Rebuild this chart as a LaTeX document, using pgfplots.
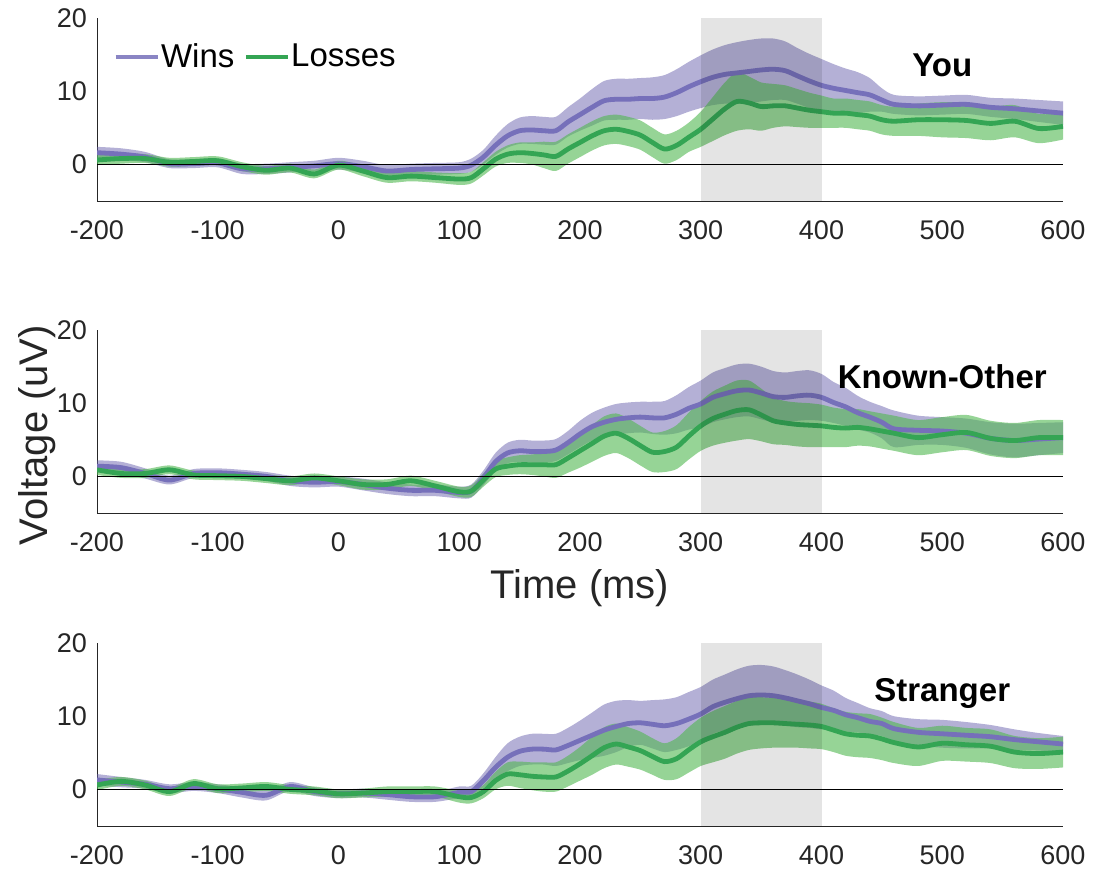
\documentclass[border=0pt]{standalone}
\usepackage{fontspec}
\setmainfont{Liberation Sans}
\usepackage{pgfplots}
\usepackage{pgfplotstable}
\pgfplotsset{compat=1.18}
\usepgfplotslibrary{fillbetween}
\definecolor{winsline}{RGB}{118,112,186}
\definecolor{winsband}{RGB}{105,97,173}
\definecolor{lossline}{RGB}{52,165,84}
\definecolor{lossband}{RGB}{80,183,80}
\definecolor{axgray}{RGB}{38,38,38}

\pgfplotstableread{
t wm we lm le
-200 1.6 0.8 0.6 0.7
-180 1.4 0.8 0.8 0.7
-160 1.0 0.7 0.8 0.6
-140 0.1 0.6 0.3 0.6
-120 0.1 0.6 0.4 0.6
-100 0.2 0.6 0.5 0.6
-80 -0.6 0.7 -0.3 0.6
-60 -0.6 0.7 -0.8 0.6
-40 -0.4 0.7 -0.5 0.6
-20 -0.2 0.7 -1.3 0.6
0 0.1 0.8 -0.1 0.6
20 -0.3 0.8 -0.9 0.7
40 -0.9 0.8 -1.8 0.7
60 -0.7 0.8 -1.6 0.7
80 -0.6 0.8 -1.8 0.7
100 -0.5 0.8 -2.0 0.8
110 -0.1 0.9 -1.8 0.8
120 1.0 1.0 -0.6 0.9
130 2.6 1.3 0.7 1.0
140 3.9 1.6 1.4 1.2
150 4.6 1.8 1.6 1.4
160 4.7 1.9 1.5 1.5
170 4.6 1.9 1.3 1.8
180 4.6 1.9 1.1 2.0
190 5.8 2.0 2.1 2.0
200 6.8 2.2 3.0 2.0
210 7.8 2.5 3.9 2.0
220 8.7 2.7 4.6 2.0
230 8.9 2.8 4.8 2.0
240 8.9 2.8 4.5 2.0
250 9.0 2.8 4.0 2.0
260 9.0 2.9 3.0 2.0
270 9.2 3.0 2.1 2.0
280 9.8 3.2 2.6 2.0
290 10.6 3.4 3.7 2.0
300 11.3 3.6 4.8 2.4
310 11.9 3.8 6.2 3.0
320 12.3 4.0 7.6 3.6
330 12.5 4.2 8.6 4.0
340 12.7 4.3 8.4 3.6
350 12.9 4.3 7.9 3.3
360 13.0 4.2 8.0 3.0
370 12.8 4.0 8.0 2.8
380 12.1 3.8 7.7 2.6
390 11.4 3.7 7.4 2.4
400 10.8 3.6 7.2 2.2
410 10.4 3.3 7.0 2.0
420 10.1 3.0 7.0 2.0
430 9.8 2.8 6.8 2.0
440 9.5 2.3 6.6 2.0
450 8.8 1.6 6.1 2.0
460 8.2 1.3 5.9 2.0
480 8.0 1.3 6.1 2.2
500 8.1 1.3 6.1 2.4
520 8.2 1.3 6.0 2.4
540 7.8 1.3 5.6 2.3
560 7.6 1.4 5.9 2.2
580 7.3 1.5 4.9 2.0
600 7.0 1.6 5.2 1.8
}\youdata

\pgfplotstableread{
t wm we lm le
-200 1.4 0.8 0.9 0.7
-180 1.2 0.8 0.4 0.6
-160 0.4 0.7 0.4 0.6
-140 -0.5 0.6 0.9 0.6
-120 0.4 0.6 0.2 0.6
-100 0.5 0.6 0.1 0.6
-80 0.3 0.6 0.0 0.6
-60 0.0 0.6 -0.3 0.6
-40 -0.6 0.7 -0.6 0.6
-20 -0.8 0.7 -0.2 0.6
0 -0.7 0.7 -0.6 0.6
20 -1.1 0.8 -1.1 0.7
40 -1.6 0.8 -1.1 0.7
60 -1.9 0.8 -0.6 0.7
80 -1.9 0.8 -1.3 0.7
100 -2.2 0.8 -2.1 0.7
110 -2.0 0.9 -2.0 0.8
120 -0.2 1.0 -0.5 0.9
130 2.0 1.2 1.0 1.1
140 3.2 1.4 1.4 1.2
150 3.5 1.5 1.6 1.3
160 3.4 1.5 1.6 1.4
170 3.4 1.5 1.6 1.6
180 3.6 1.5 1.6 1.8
190 4.6 1.6 2.5 2.0
200 5.8 1.8 3.5 2.3
210 6.8 1.9 4.5 2.5
220 7.4 2.0 5.5 2.7
230 7.8 2.1 5.9 2.7
240 8.0 2.1 5.2 2.7
250 8.1 2.1 4.2 2.7
260 8.0 2.2 3.3 2.7
270 8.0 2.3 3.4 2.8
280 8.5 2.6 4.0 3.0
290 9.3 2.9 5.5 3.2
300 9.9 3.2 6.9 3.4
310 10.8 3.4 7.9 3.7
320 11.3 3.5 8.5 3.9
330 11.7 3.6 9.0 4.1
340 11.8 3.6 9.1 4.0
350 11.4 3.6 8.4 3.6
360 10.9 3.5 7.6 3.2
370 10.8 3.4 7.3 3.0
380 11.0 3.4 7.1 3.0
390 11.1 3.4 7.0 3.0
400 10.8 3.2 6.9 2.9
410 10.1 2.8 6.7 2.7
420 9.5 2.6 6.6 2.6
430 8.7 2.3 6.7 2.5
440 8.1 2.1 6.5 2.4
450 7.4 2.2 6.2 2.4
460 6.5 2.5 5.9 2.4
480 6.3 2.0 5.3 2.4
500 6.2 1.9 5.7 2.4
520 5.9 2.0 6.0 2.4
540 5.2 2.2 5.2 2.4
560 4.9 2.3 4.9 2.4
580 5.1 2.2 5.3 2.4
600 5.3 2.1 5.3 2.4
}\knowndata

\pgfplotstableread{
t wm we lm le
-200 1.3 0.8 0.6 0.7
-180 1.0 0.7 1.1 0.6
-160 0.7 0.6 0.6 0.6
-140 0.1 0.6 -0.3 0.6
-120 0.4 0.6 0.8 0.6
-100 0.1 0.6 0.1 0.6
-80 -0.4 0.7 0.2 0.6
-60 -0.8 0.7 0.4 0.6
-40 0.4 0.6 0.0 0.6
-20 -0.3 0.6 -0.2 0.6
0 -0.6 0.6 -0.6 0.6
20 -0.5 0.6 -0.5 0.6
40 -0.7 0.7 -0.3 0.7
60 -1.0 0.7 -0.3 0.7
80 -1.0 0.7 -0.3 0.7
100 -0.4 0.8 -1.0 0.8
110 -0.3 0.8 -1.1 0.8
120 1.2 1.0 -0.3 0.9
130 3.0 1.4 1.2 1.2
140 4.4 1.9 2.1 1.6
150 5.2 2.0 2.0 1.8
160 5.5 2.1 1.8 1.9
170 5.5 2.1 1.7 2.0
180 5.4 2.2 1.7 2.0
190 6.0 2.4 2.5 2.1
200 6.7 2.7 3.5 2.3
210 7.4 3.1 4.6 2.6
220 8.1 3.5 5.7 2.8
230 8.6 3.5 6.2 2.8
240 9.0 3.2 5.8 2.7
250 9.1 3.0 5.3 2.6
260 8.9 3.3 4.5 2.5
270 8.7 3.6 3.8 2.5
280 9.0 3.6 4.2 2.8
290 9.6 3.7 5.4 3.1
300 10.3 3.7 6.5 3.3
310 11.3 3.7 7.2 3.5
320 11.9 3.8 7.8 3.6
330 12.4 4.0 8.5 3.6
340 12.8 4.1 9.0 3.6
350 12.9 4.1 9.1 3.5
360 12.8 4.0 9.1 3.4
370 12.5 3.8 9.0 3.3
380 12.1 3.6 8.9 3.2
390 11.7 3.3 8.8 3.2
400 11.2 3.0 8.6 3.1
410 10.8 2.7 8.1 3.0
420 10.2 2.3 7.6 3.0
430 9.8 2.0 7.4 3.0
440 9.3 1.8 7.3 3.0
450 9.0 1.7 6.9 2.9
460 8.3 1.7 6.4 2.8
480 7.8 1.8 5.8 2.6
500 7.6 1.9 6.3 2.4
520 7.4 1.8 6.1 2.3
540 7.2 1.6 5.9 2.3
560 6.8 1.4 5.1 2.2
580 6.5 1.2 4.9 2.1
600 6.2 1.1 5.1 2.1
}\strangerdata

\newcommand{\erppanel}[2]{%
  \addplot[draw=none, smooth, name path=#2wu, forget plot] table[x=t, y expr=\thisrow{wm}+\thisrow{we}] {#1};
  \addplot[draw=none, smooth, name path=#2wl, forget plot] table[x=t, y expr=\thisrow{wm}-\thisrow{we}] {#1};
  \addplot[fill=winsband, fill opacity=0.5, draw=none, forget plot] fill between[of=#2wu and #2wl];
  \addplot[winsline, line width=2.4pt, smooth, forget plot] table[x=t, y=wm] {#1};
  \addplot[draw=none, smooth, name path=#2lu, forget plot] table[x=t, y expr=\thisrow{lm}+\thisrow{le}] {#1};
  \addplot[draw=none, smooth, name path=#2ll, forget plot] table[x=t, y expr=\thisrow{lm}-\thisrow{le}] {#1};
  \addplot[fill=lossband, fill opacity=0.6, draw=none, forget plot] fill between[of=#2lu and #2ll];
  \addplot[lossline, line width=2.4pt, smooth, forget plot] table[x=t, y=lm] {#1};
  \addplot[fill=black, fill opacity=0.105, draw=none, forget plot] coordinates {(300,-5) (400,-5) (400,20) (300,20)};
  \addplot[black, line width=0.6pt, forget plot] coordinates {(-200,0) (600,0)};
}

\pgfplotsset{erp/.style={
  width=483pt, height=91.5pt, scale only axis,
  xmin=-200, xmax=600, ymin=-5, ymax=20,
  axis lines=left, axis line style={-, draw=axgray, line width=0.5pt},
  xtick={-200,-100,0,100,200,300,400,500,600},
  xticklabels={-200,-100,0,100,200,300,400,500,600},
  ytick={0,10,20}, yticklabels={0,10,20},
  major tick length=0pt,
  tick label style={font=\fontsize{13.5}{16}\selectfont, text=axgray},
  xticklabel style={yshift=-6.5pt},
  yticklabel style={xshift=-1.5pt},
  anchor=south west,
}}

\begin{document}
\begin{tikzpicture}

\begin{axis}[erp, at={(0pt,0pt)},
  legend style={at={(axis description cs:0.0166,0.787)}, anchor=west, draw=none, fill=none,
    inner sep=0pt, legend columns=2, font=\fontsize{16.5}{19}\selectfont,
    /tikz/every even column/.append style={column sep=4pt},
    nodes={inner sep=0.6pt}},
  legend image code/.code={\draw[#1, line width=2.2pt] (0pt,0pt) -- (21pt,0pt);}]
\erppanel{\youdata}{a}
\addlegendimage{winsline!85!white}
\addlegendentry{Wins}
\addlegendimage{lossline}
\addlegendentry{Losses}
\node[font=\bfseries\fontsize{16.5}{20}\selectfont, anchor=base] at (axis cs:500,12) {You};
\end{axis}

\begin{axis}[erp, at={(0pt,-156pt)}]
\erppanel{\knowndata}{b}
\node[font=\bfseries\fontsize{16.5}{20}\selectfont, anchor=base] at (axis cs:500,12) {Known-Other};
\end{axis}

\begin{axis}[erp, at={(0pt,-312.5pt)}]
\erppanel{\strangerdata}{c}
\node[font=\bfseries\fontsize{16.5}{20}\selectfont, anchor=base] at (axis cs:500,12) {Stranger};
\end{axis}

\node[rotate=90, font=\fontsize{20}{24}\selectfont, text=axgray] at (-30pt,-117pt) {Voltage (uV)};
\node[font=\fontsize{20}{24}\selectfont, text=axgray] at (241.5pt,-193.5pt) {Time (ms)};
\path (-48.5pt,100.5pt) rectangle (498pt,-335pt);
\end{tikzpicture}
\end{document}
